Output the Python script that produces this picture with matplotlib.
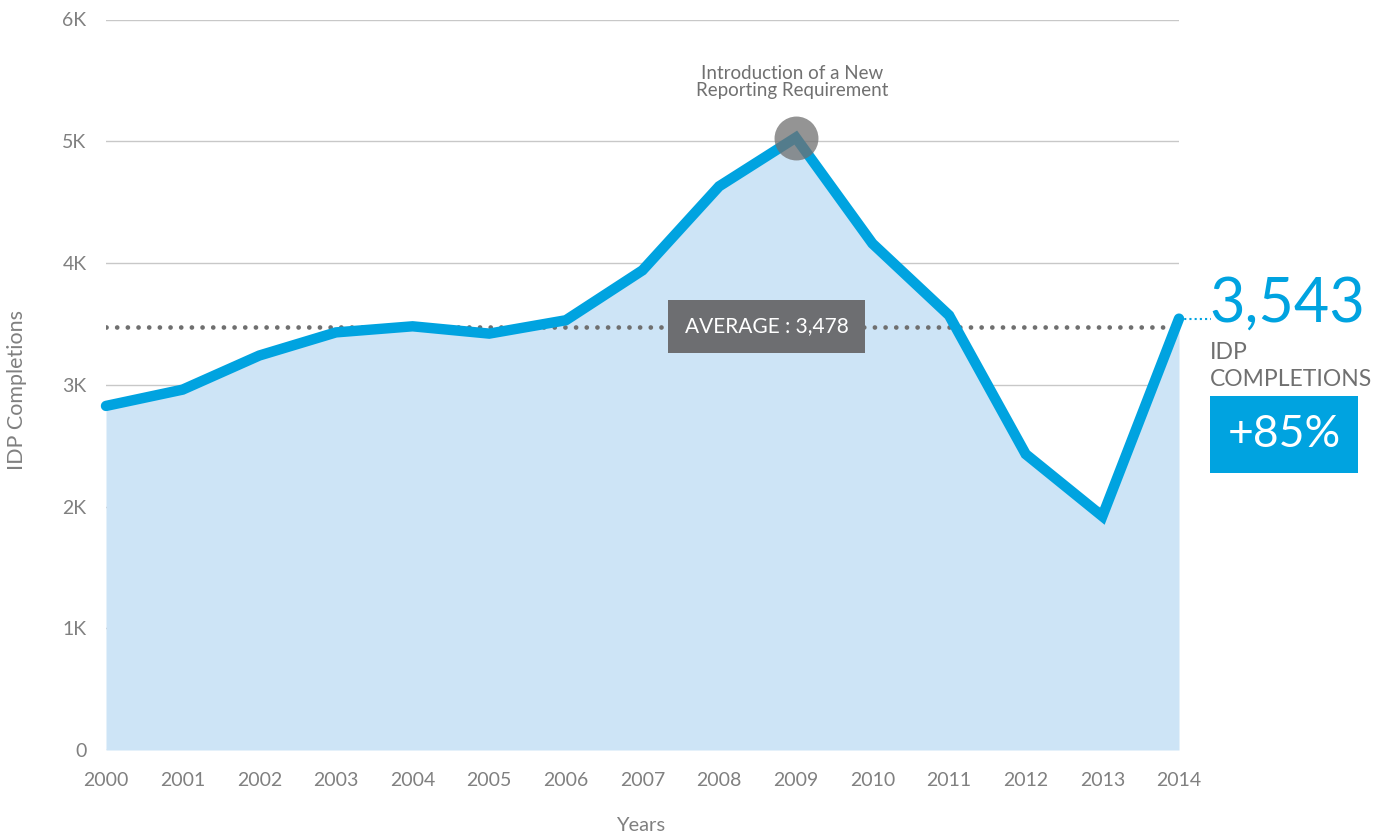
import matplotlib
matplotlib.use('Agg')
import matplotlib.pyplot as plt

years = list(range(2000, 2015))
completions = [2826, 2960, 3240, 3430, 3480, 3420, 3530, 3940, 4630, 5030, 4160, 3570, 2430, 1920, 3543]
average = 3478
y_ticks = [0, 1000, 2000, 3000, 4000, 5000, 6000]
y_labels = ['0', '1K', '2K', '3K', '4K', '5K', '6K']

blue = '#00a3e0'
fill = '#cde4f6'
grey = '#808080'

plt.rcParams['font.family'] = ['Lato', 'DejaVu Sans']

fig = plt.figure(figsize=(13.81, 8.35), dpi=100)
ax = fig.add_axes([106 / 1381, 85 / 835, (1179 - 106) / 1381, (750 - 19.5) / 835])

ax.set_xlim(2000, 2014)
ax.set_ylim(0, 6000)

ax.fill_between(years, completions, 0, color=fill, lw=0, zorder=1)
ax.plot(years, completions, color=blue, lw=7.5, solid_joinstyle='miter', solid_capstyle='round', zorder=3, clip_on=False)

# average line
ax.plot([2000, 2014], [average, average], color='#6f6f6f', lw=3.4, ls=(0, (0.01, 2.25)), dash_capstyle='round', zorder=2)
ax.text(8.62 + 2000, average, 'AVERAGE : 3,478', color='white', fontsize=15, ha='center', va='center', zorder=5,
        bbox=dict(boxstyle='square,pad=0.8', fc='#6d6e71', ec='none'))

# marker at 2009
ax.scatter([2009], [5030], s=1000, color='#707070', alpha=0.75, zorder=4, lw=0)
ax.text(2008.95, 5350, 'Introduction of a New\nReporting Requirement', color='#707070', fontsize=13.5,
        ha='center', va='bottom', linespacing=1.0)

# right annotations
ax.plot([2014, 2014.42], [completions[-1], completions[-1]], color=blue, lw=1.5, ls=(0, (1, 1.5)), clip_on=False)
ax.text(2014.40, 3515, '3,543', color=blue, fontsize=44, ha='left', va='baseline', clip_on=False)
ax.text(2014.40, 3265, 'IDP', color='#707070', fontsize=16.5, ha='left', va='center')
ax.text(2014.40, 3040, 'COMPLETIONS', color='#707070', fontsize=16.5, ha='left', va='center')
ax.text(2015.37, 2591, '+85%', color='white', fontsize=32, ha='center', va='center',
        bbox=dict(boxstyle='square,pad=0.4', fc=blue, ec='none'))

ax.grid(axis='y', color='#c8c8c8', lw=1)
ax.set_axisbelow(True)
for s in ax.spines.values():
    s.set_visible(False)
ax.set_yticks(y_ticks)
ax.set_yticklabels(y_labels)
ax.set_xticks(years)
ax.tick_params(length=0, colors=grey, labelsize=14)
ax.tick_params(axis='x', pad=16)
ax.tick_params(axis='y', pad=14)

ax.set_xlabel('Years', color=grey, fontsize=14.5)
ax.set_ylabel('IDP Completions', color=grey, fontsize=15.5)
ax.xaxis.set_label_coords(0.498, -0.103)
ax.yaxis.set_label_coords(-(106 - 17) / 1073, 0.493)
ax.xaxis.label.set_va('center')
ax.yaxis.label.set_va('center')

plt.savefig('out.png', dpi=100)
